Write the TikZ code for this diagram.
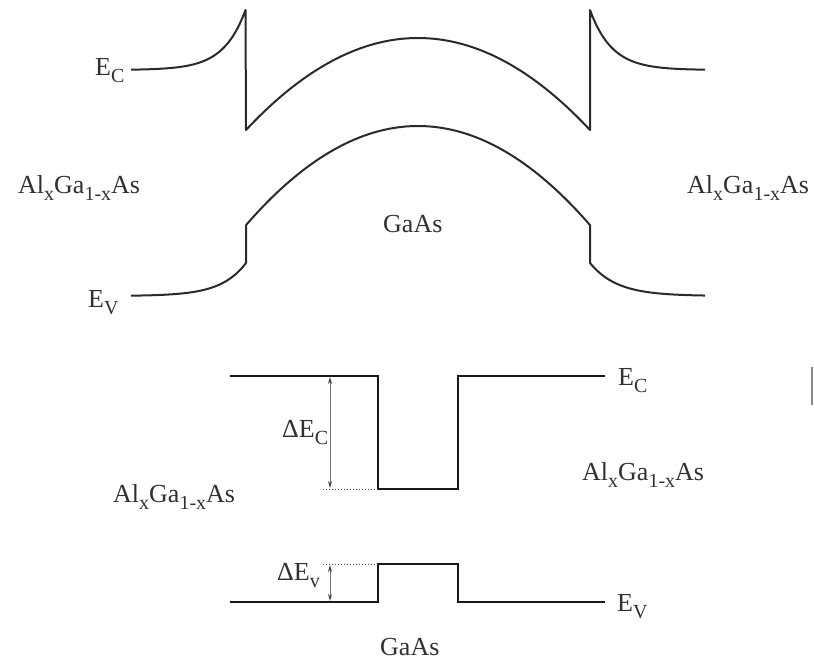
\documentclass[tikz,border=0pt]{standalone}
\usepackage{fontspec}
\setmainfont{Liberation Serif}
\usetikzlibrary{arrows.meta}
\definecolor{ink}{HTML}{2A2A2A}
\definecolor{txt}{HTML}{303030}
\newcommand\lowsub[1]{\raisebox{-7pt}{\fontsize{20}{22}\selectfont #1}}
\tikzset{
  curve/.style={draw=ink, line width=2pt, line join=round},
  band/.style={draw=black!90, line width=2.6pt, line join=miter},
  gap/.style={draw=black!55, line width=1pt, {Stealth[length=7pt,width=4pt,color=black!75]}-{Stealth[length=7pt,width=4pt,color=black!75]}},
  guide/.style={draw=black!70, line width=1pt, dotted},
  lbl/.style={text=txt, inner sep=0pt, anchor=base west, font=\fontsize{26}{30}\selectfont}
}
\begin{document}
\begin{tikzpicture}[x=1pt,y=-1pt]
\useasboundingbox (0,0) rectangle (814,661);
% ---- top: band bending ----
\draw[curve] plot[domain=131:245.5,samples=60] (\x,{70-60*exp(-(245.5-\x)/22)})
  -- (246,130)
  -- plot[domain=246:590,samples=80] (\x,{38+31.1*((\x-418)/100)^2})
  -- (590,10)
  -- plot[domain=590:705,samples=60] (\x,{70-60*exp(-(\x-590)/22)});
\draw[curve] plot[domain=131:246,samples=60] (\x,{296-33*exp(-(246-\x)/25)})
  -- (246,225)
  -- plot[domain=246:590,samples=80] (\x,{126+33.5*((\x-418)/100)^2})
  -- (590,263)
  -- plot[domain=590:705,samples=60] (\x,{296-33*exp(-(\x-590)/27)});
\node[lbl] (ec1) at (95,75) {E\lowsub{C}};
\node[lbl] (ev1) at (88,307) {E\lowsub{V}};
\node[lbl] (al1) at (18,193) {Al\lowsub{x}Ga\lowsub{1-x}As};
\node[lbl] (al2) at (687,193) {Al\lowsub{x}Ga\lowsub{1-x}As};
\node[lbl] (ga1) at (383,232) {GaAs};
% ---- bottom: flat bands ----
\coordinate (c1) at (230,376);
\coordinate (c2) at (378,376);
\coordinate (c3) at (378,489);
\coordinate (c4) at (458,489);
\coordinate (c5) at (458,376);
\coordinate (c6) at (605,376);
\draw[band] (c1) -- (c2) -- (c3) -- (c4) -- (c5) -- (c6);
\coordinate (v1) at (230,602);
\coordinate (v2) at (378,602);
\coordinate (v3) at (378,564);
\coordinate (v4) at (458,564);
\coordinate (v5) at (458,602);
\coordinate (v6) at (605,602);
\draw[band] (v1) -- (v2) -- (v3) -- (v4) -- (v5) -- (v6);
\coordinate (dc1) at (323,489);
\coordinate (dv1) at (323,564);
\draw[guide] (dc1) -- (c3);
\draw[guide] (dv1) -- (v3);
\coordinate (ac1) at (330,377);
\coordinate (ac2) at (330,488);
\coordinate (av1) at (330,565);
\coordinate (av2) at (330,601);
\draw[gap] (ac1) -- (ac2);
\draw[gap] (av1) -- (av2);
\node[lbl] (dec) at (282,437) {ΔE\lowsub{C}};
\node[lbl] (dev) at (277,580) {ΔE\lowsub{v}};
\node[lbl] (ec2) at (618,385) {E\lowsub{C}};
\node[lbl] (ev2) at (617,611) {E\lowsub{V}};
\node[lbl] (al3) at (113,502) {Al\lowsub{x}Ga\lowsub{1-x}As};
\node[lbl] (al4) at (582,480) {Al\lowsub{x}Ga\lowsub{1-x}As};
\node[lbl] (ga2) at (380,655) {GaAs};
\draw[draw=black!45, line width=2pt] (812,367) -- (812,405);
\end{tikzpicture}
\end{document}
